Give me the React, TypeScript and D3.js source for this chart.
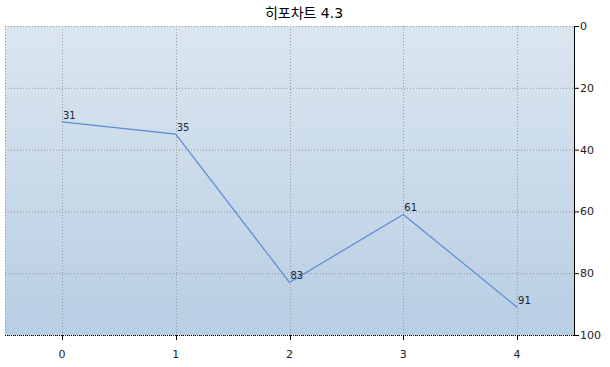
import React from "react";
import * as d3 from "d3";

const categories = [0, 1, 2, 3, 4];
const values = [31, 35, 83, 61, 91];
const yTicks = [0, 20, 40, 60, 80, 100];
const title = "히포차트 4.3";

export default function App() {
  const W = 610, H = 367;
  const left = 5, right = 574, top = 26, bottom = 335;
  const x = d3.scaleLinear().domain([-0.5, 4.5]).range([left, right]);
  const y = d3.scaleLinear().domain([0, 100]).range([top, bottom]);
  const line = d3.line<number>().x((_, i) => x(categories[i])).y((d) => y(d));
  const font = "Tahoma, 'DejaVu Sans', sans-serif";
  return (
    <svg width={W} height={H} style={{ position: "absolute", left: 0, top: 0 }}>
      <defs>
        <linearGradient id="bg" x1="0" y1="0" x2="0" y2="1">
          <stop offset="0%" stopColor="#dbe6f0" />
          <stop offset="100%" stopColor="#b8cee3" />
        </linearGradient>
      </defs>
      <rect x={0} y={0} width={W} height={H} fill="#fff" />
      <text x={304} y={18} textAnchor="middle" fontFamily="'DejaVu Sans', 'Noto Sans CJK KR', sans-serif" fontSize={14} fill="#000">{title}</text>
      <rect x={left} y={top} width={right - left} height={bottom - top} fill="url(#bg)" />
      {yTicks.map((t) => (
        <line key={"gy" + t} x1={left} x2={right} y1={y(t) + 0.5} y2={y(t) + 0.5} stroke="#999" strokeDasharray="1,2" />
      ))}
      {categories.map((c) => (
        <line key={"gx" + c} x1={Math.round(x(c)) + 0.5} x2={Math.round(x(c)) + 0.5} y1={top} y2={bottom} stroke="#999" strokeDasharray="1,2" />
      ))}
      <line x1={left + 0.5} x2={left + 0.5} y1={top} y2={bottom} stroke="#999" strokeDasharray="1,2" />
      <line x1={left} x2={right} y1={bottom + 0.5} y2={bottom + 0.5} stroke="#000" strokeDasharray="1,1" />
      <line x1={right + 0.5} x2={right + 0.5} y1={top} y2={bottom + 1} stroke="#000" />
      {yTicks.map((t) => (
        <g key={"yt" + t}>
          <line x1={right} x2={right + 5} y1={y(t) + 0.5} y2={y(t) + 0.5} stroke="#000" />
          <text x={580} y={y(t) + 4} fontFamily={font} fontSize={11} fill="#222">{t}</text>
        </g>
      ))}
      {categories.map((c) => (
        <g key={"xt" + c}>
          <line x1={Math.round(x(c)) + 0.5} x2={Math.round(x(c)) + 0.5} y1={bottom} y2={bottom + 5} stroke="#000" />
          <text x={x(c)} y={358} textAnchor="middle" fontFamily={font} fontSize={11} fill="#222">{c}</text>
        </g>
      ))}
      <path d={line(values) || ""} fill="none" stroke="#5b8bd6" strokeWidth={1.2} />
      {values.map((v, i) => (
        <text key={"l" + i} x={x(categories[i]) + 1} y={y(v) - 3} fontFamily={font} fontSize={10} fill="#223">{v}</text>
      ))}
    </svg>
  );
}
